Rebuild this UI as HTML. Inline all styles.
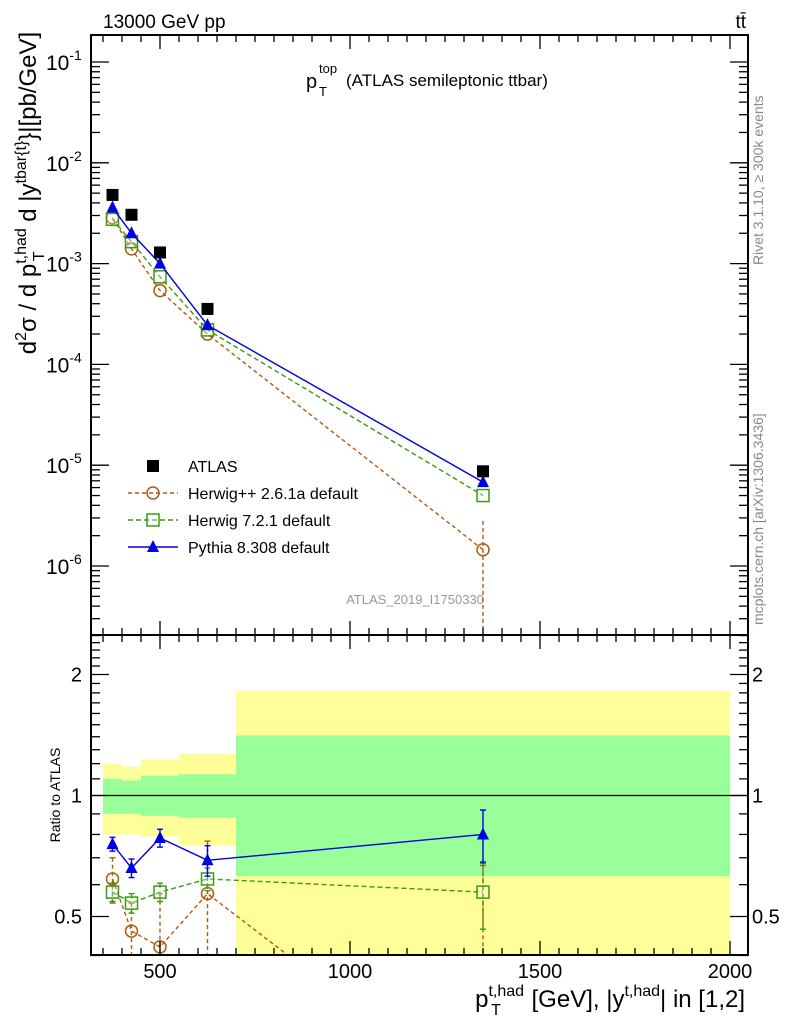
<!DOCTYPE html>
<html><head><meta charset="utf-8"><style>
html,body{margin:0;background:#fff;overflow:hidden;width:786px;height:1024px}
svg{font-family:"Liberation Sans",sans-serif;display:block}
</style></head><body>
<svg id="c" width="786" height="1024" viewBox="0 0 786 1024" xmlns="http://www.w3.org/2000/svg">
<text x="103" y="28" font-size="19">13000 GeV pp</text>
<text x="746" y="28" font-size="19" text-anchor="end">tt̄</text>
<g>
<text x="306" y="88" font-size="20">p</text>
<text x="319" y="73" font-size="13">top</text>
<text x="319" y="96" font-size="13">T</text>
<text x="346" y="86" font-size="17">(ATLAS semileptonic ttbar)</text>
</g>
<text transform="translate(763,265) rotate(-90)" font-size="14" fill="#888">Rivet 3.1.10, ≥ 300k events</text>
<text transform="translate(763,625) rotate(-90)" font-size="14" fill="#888">mcplots.cern.ch [arXiv:1306.3436]</text>
<text x="415" y="604" font-size="13" fill="#999" text-anchor="middle">ATLAS_2019_I1750330</text>
<text transform="translate(36,193) rotate(-90)" font-size="24" text-anchor="middle">d<tspan font-size="16" dy="-10">2</tspan><tspan dy="10">σ / d p</tspan><tspan font-size="16" dy="-10">t,had</tspan><tspan font-size="16" dx="-33" dy="18">T</tspan><tspan dy="-8" dx="23"> d |y</tspan><tspan font-size="16" dy="-10">tbar{t}</tspan><tspan dy="10">}|[pb/GeV]</tspan></text>
<text transform="translate(60,795) rotate(-90)" font-size="14" text-anchor="middle">Ratio to ATLAS</text>
<text x="745" y="1007" font-size="24" text-anchor="end">p<tspan font-size="16" dy="-11">t,had</tspan><tspan font-size="16" dx="-33" dy="19">T</tspan><tspan dx="24" dy="-8"> [GeV], |y</tspan><tspan font-size="16" dy="-11">t,had</tspan><tspan dy="11">| in [1,2]</tspan></text>
<g id="g"></g>
</svg>
<script>
const edges=[350,400,450,550,700,2000];
const xs=[375,425,500,625,1350];
const atlas=[4.8e-3,3.05e-3,1.29e-3,3.55e-4,8.7e-6];
const pythia=[3.6e-3,2.0e-3,1.0e-3,2.45e-4,6.8e-6];
const herwig7=[2.75e-3,1.65e-3,7.4e-4,2.2e-4,5.0e-6];
const herwigpp=[2.85e-3,1.4e-3,5.4e-4,2.0e-4,1.45e-6];
const rPythia=[0.757,0.66,0.784,0.69,0.80];
const rPythiaErr=[0.03,0.035,0.04,0.06,0.12];
const rH7=[0.575,0.54,0.575,0.62,0.575];
const rH7Err=[0.03,0.03,0.03,0.04,0.11];
const rHpp=[0.62,0.46,0.42,0.57,0.17];
const rHppErr=[0.08,0.08,0.15,0.2,0.5];
const band1Hi=[1.10,1.09,1.12,1.13,1.41];
const band1Lo=[0.90,0.90,0.89,0.88,0.63];
const band2Hi=[1.20,1.18,1.23,1.27,1.82];
const band2Lo=[0.80,0.80,0.79,0.75,0.30];
const ns="http://www.w3.org/2000/svg",G=document.getElementById('g');
const L=91,R=748,T=35,MB=635,RB=955;
const X=v=>160+(v-500)*0.38;
const Y=v=>62+(-1-Math.log10(v))*100.8;
const YR=v=>795.5-Math.log10(v)*402;
function el(t,a,p){const e=document.createElementNS(ns,t);for(const k in a)e.setAttribute(k,a[k]);(p||G).appendChild(e);return e;}
const clipM=el('clipPath',{id:'cm'});el('rect',{x:L,y:T,width:R-L,height:MB-T},clipM);
const clipR=el('clipPath',{id:'cr'});el('rect',{x:L,y:MB,width:R-L,height:RB-MB},clipR);
const gm=el('g',{'clip-path':'url(#cm)'});


const gr=el('g',{'clip-path':'url(#cr)'});


for(let i=0;i<xs.length;i++){
 const x0=X(edges[i]),w=X(edges[i+1])-x0;
 const b2=el('rect',{x:x0,y:YR(band2Hi[i]),width:w,height:YR(band2Lo[i])-YR(band2Hi[i]),fill:'#ffff99'},gr);
 
 
 const b1=el('rect',{x:x0,y:YR(band1Hi[i]),width:w,height:YR(band1Lo[i])-YR(band1Hi[i]),fill:'#99ff99'},gr);
 
 
}
el('line',{x1:L,x2:R,y1:YR(1),y2:YR(1),stroke:'#000','stroke-width':1.3},gr);
function series(g,vals,yf,color,dash,marker,name,errs){
 const pts=xs.map((x,i)=>X(x)+','+yf(vals[i])).join(' ');
 const pl=el('polyline',{points:pts,fill:'none',stroke:color,'stroke-width':1.4,'stroke-dasharray':dash},g);
 
 
 xs.forEach((x,i)=>{
  const cx=X(x),cy=yf(vals[i]);
  if(errs){const e1=yf(vals[i]+errs[i]),e2=yf(Math.max(vals[i]-errs[i],0.01));
   el('line',{x1:cx,x2:cx,y1:e1,y2:e2,stroke:color,'stroke-width':1.4,'stroke-dasharray':dash},g);
   el('line',{x1:cx-3,x2:cx+3,y1:e1,y2:e1,stroke:color,'stroke-width':1.4},g);
   el('line',{x1:cx-3,x2:cx+3,y1:e2,y2:e2,stroke:color,'stroke-width':1.4},g);}
  drawMarker(g,marker,cx,cy,color,name);
 });
}
function drawMarker(g,m,cx,cy,color,name){
 let e;
 if(m==='sq')e=el('rect',{x:cx-6,y:cy-6,width:12,height:12,fill:'#000'},g);
 else if(m==='osq')e=el('rect',{x:cx-6,y:cy-6,width:12,height:12,fill:'#fff','fill-opacity':0.3,stroke:color,'stroke-width':1.5},g);
 else if(m==='oc')e=el('circle',{cx:cx,cy:cy,r:6,fill:'none',stroke:color,'stroke-width':1.5},g);
 else e=el('polygon',{points:`${cx},${cy-7} ${cx-6},${cy+5} ${cx+6},${cy+5}`,fill:color},g);
 
 
}
series(gm,herwigpp,Y,'#b05a10','4,3','oc','herwigpp',null);
el('line',{x1:X(1350),x2:X(1350),y1:Y(2.8e-6),y2:MB,stroke:'#b05a10','stroke-width':1.4,'stroke-dasharray':'4,3'},gm);
series(gm,herwig7,Y,'#3a9a10','5,3','osq','herwig7',null);
series(gm,pythia,Y,'#0000e0','','tri','pythia',null);
xs.forEach((x,i)=>drawMarker(gm,'sq',X(x),Y(atlas[i]),'#000','atlas'));
series(gr,rHpp,YR,'#b05a10','4,3','oc','herwigpp-ratio',rHppErr);
series(gr,rH7,YR,'#3a9a10','5,3','osq','herwig7-ratio',rH7Err);
series(gr,rPythia,YR,'#0000e0','','tri','pythia-ratio',rPythiaErr);
el('rect',{x:L,y:T,width:R-L,height:MB-T,fill:'none',stroke:'#000','stroke-width':2});
el('rect',{x:L,y:MB,width:R-L,height:RB-MB,fill:'none',stroke:'#000','stroke-width':2});
for(let v=350;v<=2050;v+=50){const x=X(v);if(x<L||x>R)continue;const big=v%500===0;const l=big?14:7;
 [[T,1],[MB,-1],[MB,1],[RB,-1]].forEach(([y,d])=>el('line',{x1:x,x2:x,y1:y,y2:y+d*l,stroke:'#000','stroke-width':1.3}));}
const xticks=[500,1000,1500,2000];
xticks.forEach(v=>{const t=el('text',{x:X(v),y:978,'font-size':20,'text-anchor':'middle'});t.textContent=v;
 
 });
const ylabels=['-1','-2','-3','-4','-5','-6'];
for(let d=-7;d<=-1;d++)for(let k=1;k<10;k++){const y=Y(k*Math.pow(10,d));if(y<T||y>MB)continue;const l=k===1?18:9;
 el('line',{x1:L,x2:L+l,y1:y,y2:y,stroke:'#000','stroke-width':1.3});el('line',{x1:R,x2:R-l,y1:y,y2:y,stroke:'#000','stroke-width':1.3});}
ylabels.forEach(s=>{const y=Y(Math.pow(10,+s));const t=el('text',{x:46,y:y+8,'font-size':21});t.innerHTML='10<tspan font-size="14" dy="-10">'+s+'</tspan>';
 
 });
for(let v=0.4;v<=2.5;v=+(v+0.1).toFixed(1)){const y=YR(v);const big=[0.5,1,2].includes(v);const l=big?18:9;
 el('line',{x1:L,x2:L+l,y1:y,y2:y,stroke:'#000','stroke-width':1.3});el('line',{x1:R,x2:R-l,y1:y,y2:y,stroke:'#000','stroke-width':1.3});}
const rticks=[0.5,1,2];
rticks.forEach(v=>{[[82,'end'],[752,'start']].forEach(([x,a])=>{const t=el('text',{x:x,y:YR(v)+7,'font-size':20,'text-anchor':a});t.textContent=v;
 
 });});
const leg=[['ATLAS','#000','','sq'],['Herwig++ 2.6.1a default','#b05a10','4,3','oc'],['Herwig 7.2.1 default','#3a9a10','5,3','osq'],['Pythia 8.308 default','#0000e0','','tri']];
leg.forEach((d,i)=>{const y=466+i*27;const g=el('g',{});
 
 
 if(i>0)el('line',{x1:128,x2:178,y1:y,y2:y,stroke:d[1],'stroke-width':1.4,'stroke-dasharray':d[2]},g);
 drawMarker(g,d[3],153,y,d[1],'legend');
 const t=el('text',{x:188,y:y+6,'font-size':16},g);t.textContent=d[0];});
</script>
</body></html>
